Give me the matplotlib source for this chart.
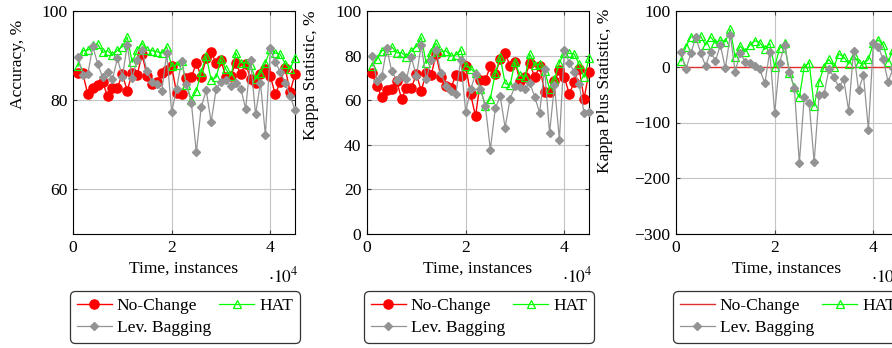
import matplotlib.pyplot as plt
from matplotlib.ticker import FuncFormatter

# Evaluation points (every 1000 instances)
instances = list(range(1000, 46000, 1000))

# Accuracy, %
acc_nochange = [86.0, 86.0, 81.3, 82.8, 83.4, 84.1, 80.9, 82.8, 82.8, 85.8,
                82.1, 86.1, 85.6, 90.3, 85.4, 83.6, 84.1, 86.0, 86.7, 87.6,
                81.6, 81.3, 84.9, 85.1, 88.4, 85.2, 89.4, 90.7, 88.4, 89.0,
                85.1, 85.5, 88.4, 85.8, 88.2, 84.7, 83.9, 85.8, 86.9, 85.4,
                81.3, 84.1, 87.2, 81.9, 85.8]
acc_hat = [87.6, 91.1, 91.2, 92.4, 92.6, 90.7, 91.1, 90.1, 91.2, 92.0,
           94.1, 88.5, 91.2, 92.7, 91.2, 91.1, 90.9, 90.5, 92.0, 87.6,
           87.9, 88.8, 83.4, 80.1, 82.1, 86.4, 89.9, 84.6, 85.1, 89.2,
           86.9, 85.4, 90.6, 88.4, 88.4, 87.9, 84.7, 86.1, 88.4, 91.4,
           90.6, 90.3, 88.2, 87.1, 89.4]
acc_levbag = [89.7, 85.6, 85.8, 92.1, 88.2, 85.1, 86.4, 84.7, 89.4, 85.2,
              92.3, 85.0, 89.1, 91.2, 86.5, 84.1, 83.6, 82.1, 90.5, 77.3,
              82.6, 88.8, 83.6, 79.3, 68.3, 78.5, 82.2, 75.1, 82.4, 84.1,
              84.5, 83.1, 83.9, 82.6, 78.1, 89.0, 76.8, 83.9, 72.1, 91.6,
              88.6, 86.4, 83.9, 81.0, 77.8]

# Kappa Statistic, %
kappa_nochange = [72.0, 66.3, 61.5, 64.5, 64.8, 68.7, 60.7, 65.5, 65.5, 71.7,
                  64.2, 72.3, 71.2, 80.5, 70.2, 66.3, 65.5, 71.1, 70.8, 75.3,
                  62.7, 52.8, 69.0, 69.0, 75.3, 71.7, 78.3, 81.0, 75.3, 77.2,
                  68.7, 70.2, 76.5, 70.2, 75.3, 63.7, 63.7, 68.5, 73.5, 70.5,
                  62.7, 68.2, 74.2, 60.7, 72.7]
kappa_hat = [75.3, 78.3, 82.2, 82.5, 84.0, 81.3, 81.3, 79.5, 82.2, 84.0,
             88.2, 76.5, 81.7, 85.5, 81.7, 82.2, 79.8, 80.2, 82.5, 75.3,
             74.2, 72.0, 64.8, 57.3, 60.7, 72.0, 79.2, 67.5, 66.7, 77.2,
             71.2, 70.2, 80.7, 75.7, 76.2, 73.2, 65.2, 69.3, 76.8, 81.3,
             81.0, 80.7, 76.2, 70.2, 78.7]
kappa_levbag = [79.8, 68.7, 70.8, 83.2, 73.2, 69.0, 71.2, 69.3, 79.2, 70.8,
                84.7, 69.3, 78.0, 82.5, 72.3, 66.3, 64.2, 62.7, 78.0, 54.8,
                64.8, 71.7, 65.2, 57.3, 37.8, 56.3, 61.8, 47.7, 60.7, 66.3,
                65.7, 65.2, 67.8, 61.5, 54.3, 74.2, 45.3, 66.7, 42.3, 82.5,
                76.8, 72.7, 67.2, 54.3, 54.8]

# Kappa Plus Statistic, %
kplus_nochange = [0.0] * 45
kplus_hat = [10.2, 35.9, 53.9, 50.9, 55.1, 38.9, 53.9, 41.9, 47.9, 44.9,
             67.1, 16.8, 37.1, 26.9, 38.9, 46.7, 43.1, 31.1, 41.9, 0.0,
             32.9, 41.9, -10.8, -37.1, -55.1, 0.0, 7.2, -70.7, -26.9, 0.0,
             13.2, 0.0, 22.8, 18.0, 4.8, 21.0, 7.2, 4.8, 13.2, 41.9,
             47.9, 38.9, 9.0, 29.9, 35.0]
kplus_levbag = [26.9, -4.8, 24.0, 52.7, 25.1, 1.2, 26.9, 10.8, 38.9, -3.0,
                56.9, -9.0, 25.1, 9.0, 7.2, 1.2, -4.8, -29.9, 26.9, -82.6,
                7.2, 38.9, -9.0, -38.9, -172.5, -53.9, -65.9, -170.7, -50.9, -49.1,
                -4.8, -18.0, -37.1, -22.8, -79.0, 28.7, -41.9, -15.0, -112.6, 41.9,
                35.9, 13.2, -26.9, -3.0, -30.0]

plt.rcParams['font.family'] = ['Liberation Serif', 'DejaVu Serif']
plt.rcParams['mathtext.fontset'] = 'stix'
plt.rcParams['font.size'] = 12.6

RED = '#ff0000'
GREEN = '#00ff00'
GRAY = '#939393'

fig = plt.figure(figsize=(8.92, 3.48), dpi=100)

W, H = 892.0, 348.0
panels = [
    (73, "Accuracy, %", (50, 100), [60, 80, 100], -0.21, 0.76,
     acc_nochange, acc_hat, acc_levbag, True),
    (367, "Kappa Statistic, %", (0, 100), [0, 20, 40, 60, 80, 100], -0.215, 0.71,
     kappa_nochange, kappa_hat, kappa_levbag, True),
    (676, "Kappa Plus Statistic, %", (-300, 100), [-300, -200, -100, 0, 100], -0.285, 0.64,
     kplus_nochange, kplus_hat, kplus_levbag, False),
]

for left, ylabel, ylim, yticks, lx, ly, nochange, hat, levbag, nc_marker in panels:
    ax = fig.add_axes([left / W, (H - 234) / H, 222 / W, 223 / H])

    if nc_marker:
        h1, = ax.plot(instances, nochange, color=RED, lw=1.0, marker='o', ms=6.6,
                      label="No-Change", clip_on=False, zorder=3)
    else:
        h1, = ax.plot(instances, nochange, color='#e03030', lw=1.0,
                      label="No-Change", zorder=3)
    h2, = ax.plot(instances, hat, color=GREEN, lw=0.9, marker='^', ms=5.5,
                  mfc='none', mew=0.9, label="HAT", clip_on=False, zorder=4)
    h3, = ax.plot(instances, levbag, color=GRAY, lw=0.9, marker='D', ms=3.6,
                  label="Lev. Bagging", clip_on=False, zorder=5)

    ax.set_xlim(0, 45000)
    ax.set_ylim(*ylim)
    ax.set_xticks([0, 20000, 40000])
    ax.set_yticks(yticks)
    ax.xaxis.set_major_formatter(FuncFormatter(lambda v, p: "%d" % round(v / 10000)))
    ax.grid(True, color='#c4c4c4', lw=0.8)
    ax.set_axisbelow(True)
    ax.tick_params(direction='in', length=3, width=0.8, color='#444444',
                   top=True, right=True, pad=4)
    for s in ax.spines.values():
        s.set_linewidth(0.8)

    ax.set_xlabel("Time, instances", labelpad=4)
    ax.set_ylabel(ylabel)
    ax.yaxis.set_label_coords(lx, ly)
    ax.text(1.015, -0.145, r"$\cdot 10^4$", transform=ax.transAxes,
            ha='right', va='top', fontsize=12.6)

    # legend laid out row by row: No-Change, HAT / Lev. Bagging
    leg = ax.legend([h1, h3, h2], ["No-Change", "Lev. Bagging", "HAT"], ncol=2,
                    loc='upper left', bbox_to_anchor=(-0.015, -0.255),
                    handlelength=2.0, handletextpad=0.3, columnspacing=0.45,
                    borderpad=0.4, labelspacing=0.35, framealpha=1,
                    fancybox=True, edgecolor='#333333', borderaxespad=0)
    leg.get_frame().set_linewidth(0.9)
    leg.get_frame().set_boxstyle('round', pad=0, rounding_size=0.3)

fig.savefig("out.png", dpi=100)
